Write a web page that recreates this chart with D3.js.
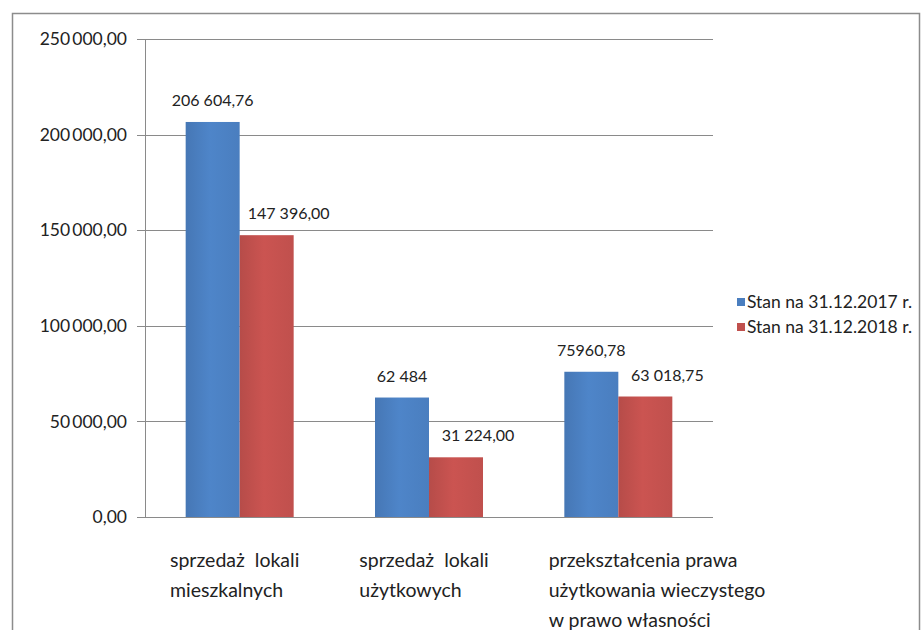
<!DOCTYPE html>
<html>
<head>
<meta charset="utf-8">
<script src="https://cdn.jsdelivr.net/npm/d3@7"></script>
<style>
  body { margin: 0; background: #fff; }
  text { font-family: Lato, "Open Sans", sans-serif; fill: #222; }
</style>
</head>
<body>
<div id="chart"></div>
<script>
// data
const categories = [
  ["sprzedaż  lokali", "mieszkalnych"],
  ["sprzedaż  lokali", "użytkowych"],
  ["przekształcenia prawa", "użytkowania wieczystego", "w prawo własności"]
];
const seriesNames = ["Stan na 31.12.2017 r.", "Stan na 31.12.2018 r."];
const values2017 = [206604.76, 62484, 75960.78];
const values2018 = [147396.00, 31224.00, 63018.75];
const labels2017 = ["206 604,76", "62 484", "75960,78"];
const labels2018 = ["147 396,00", "31 224,00", "63 018,75"];
const yTicks = [0, 50000, 100000, 150000, 200000, 250000];
const colors = ["#4a7ebf", "#c0504d"];

const W = 922, H = 630;
var margin = { top: 39, left: 145, right: 209, bottom: 113 },
width = W - margin.left - margin.right,
height = H - margin.top - margin.bottom;

const svg = d3.select("#chart").append("svg")
  .attr("width", W)
  .attr("height", H);

// outer frame of the chart object
svg.append("path")
  .attr("d", `M12.5,${H} V13.5 H919.5 V${H}`)
  .attr("fill", "none")
  .attr("stroke", "#8c8c8c")
  .attr("stroke-width", 1.5);

// gradients that give the bars the slight office look
const defs = svg.append("defs");
colors.forEach((c, i) => {
  const g = defs.append("linearGradient").attr("id", "grad" + i)
    .attr("x1", "0%").attr("x2", "100%");
  g.append("stop").attr("offset", "0%").attr("stop-color", d3.rgb(c).darker(0.15));
  g.append("stop").attr("offset", "45%").attr("stop-color", d3.rgb(c).brighter(0.15));
  g.append("stop").attr("offset", "100%").attr("stop-color", c);
});

const g = svg.append("g")
  .attr("transform", `translate(${margin.left},${margin.top})`);

const x = d3.scaleBand()
  .domain(d3.range(categories.length))
  .range([0, width])
  .paddingInner(0)
  .paddingOuter(0);

const y = d3.scaleLinear()
  .domain([0, 250000])
  .range([height, 0]);

// gridlines
g.append("g")
  .selectAll("line")
  .data(yTicks)
  .join("line")
  .attr("x1", -8)
  .attr("x2", width)
  .attr("y1", d => Math.round(y(d)) + 0.5)
  .attr("y2", d => Math.round(y(d)) + 0.5)
  .attr("stroke", "#8a8a8a")
  .attr("stroke-width", 1);

// y axis line
g.append("line")
  .attr("x1", 0.5).attr("x2", 0.5)
  .attr("y1", 0).attr("y2", height)
  .attr("stroke", "#8a8a8a");

const fmt = d3.formatLocale({ decimal: ",", thousands: "\u2009", grouping: [3], currency: ["", ""] }).format(",.2f");

g.append("g")
  .selectAll("text")
  .data(yTicks)
  .join("text")
  .attr("x", -18)
  .attr("y", d => y(d))
  .attr("dy", "0.35em")
  .attr("text-anchor", "end")
  .style("font-size", "17.5px")
  .text(d => fmt(d));

// bars
const barW = 54;
const series = [values2017, values2018];
const seriesLabels = [labels2017, labels2018];
const labelShift = [0, 22];

series.forEach((vals, s) => {
  const bx = i => x(i) + x.bandwidth() / 2 - barW + s * barW;
  g.append("g")
    .selectAll("rect")
    .data(vals)
    .join("rect")
    .attr("x", (d, i) => bx(i))
    .attr("y", d => y(d))
    .attr("width", barW)
    .attr("height", d => height - y(d))
    .attr("fill", `url(#grad${s})`);

  g.append("g")
    .selectAll("text")
    .data(vals)
    .join("text")
    .attr("x", (d, i) => bx(i) + barW / 2 + labelShift[s])
    .attr("y", d => y(d) - 16)
    .attr("text-anchor", "middle")
    .style("font-size", "16px")
    .text((d, i) => seriesLabels[s][i]);
});

// category labels
const cat = g.append("g")
  .selectAll("text")
  .data(categories)
  .join("text")
  .attr("x", (d, i) => x(i) + 25)
  .attr("y", height + 50)
  .style("font-size", "19.5px");

cat.selectAll("tspan")
  .data(d => d)
  .join("tspan")
  .attr("x", function () { return d3.select(this.parentNode).attr("x"); })
  .attr("dy", (d, i) => i === 0 ? 0 : 30)
  .attr("xml:space", "preserve")
  .text(d => d);

// legend
const legend = svg.append("g")
  .attr("transform", "translate(737,302)");

const li = legend.selectAll("g")
  .data(seriesNames)
  .join("g")
  .attr("transform", (d, i) => `translate(0,${i * 25})`);

li.append("rect")
  .attr("x", 0).attr("y", -4)
  .attr("width", 8).attr("height", 8)
  .attr("fill", (d, i) => colors[i]);

li.append("text")
  .attr("x", 10)
  .attr("dy", "0.35em")
  .style("font-size", "17.5px")
  .text(d => d);
</script>
</body>
</html>
